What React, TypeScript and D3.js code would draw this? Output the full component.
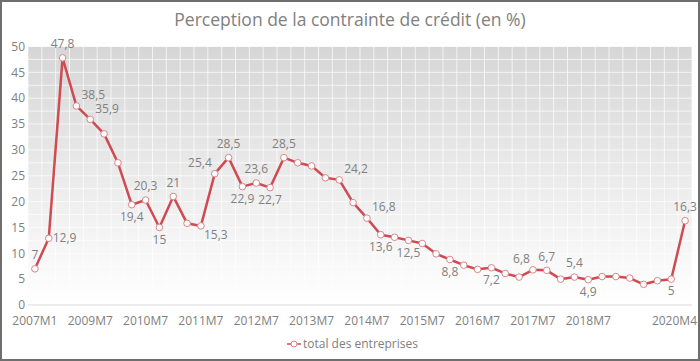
import React, { useEffect, useRef } from "react";
import * as d3 from "d3";

// categories (quarterly from 2009M1, plus two early points)
const categories = [
  "2007M1", "2008M10", "2009M1", "2009M4", "2009M7", "2009M10",
  "2010M1", "2010M4", "2010M7", "2010M10",
  "2011M1", "2011M4", "2011M7", "2011M10",
  "2012M1", "2012M4", "2012M7", "2012M10",
  "2013M1", "2013M4", "2013M7", "2013M10",
  "2014M1", "2014M4", "2014M7", "2014M10",
  "2015M1", "2015M4", "2015M7", "2015M10",
  "2016M1", "2016M4", "2016M7", "2016M10",
  "2017M1", "2017M4", "2017M7", "2017M10",
  "2018M1", "2018M4", "2018M7", "2018M10",
  "2019M1", "2019M4", "2019M7", "2019M10",
  "2020M1", "2020M4",
];

const values = [
  7, 12.9, 47.8, 38.5, 35.9, 33.1, 27.5, 19.4, 20.3, 15,
  21, 15.8, 15.3, 25.4, 28.5, 22.9, 23.6, 22.7, 28.5, 27.5,
  26.9, 24.6, 24.2, 19.8, 16.8, 13.6, 13.1, 12.5, 11.9, 9.9,
  8.8, 7.7, 6.9, 7.2, 6.1, 5.4, 6.8, 6.7, 5.0, 5.4,
  4.9, 5.5, 5.5, 5.2, 4.0, 4.7, 5.0, 16.3,
];

const tickLabels = [
  "2007M1", "2009M7", "2010M7", "2011M7", "2012M7", "2013M7",
  "2014M7", "2015M7", "2016M7", "2017M7", "2018M7", "2020M4",
];

const yTicks = [0, 5, 10, 15, 20, 25, 30, 35, 40, 45, 50];

// which points carry a data label, and on which side
const labeledPoints = [0, 1, 2, 3, 4, 7, 8, 9, 10, 12, 13, 14, 15, 16, 17, 18, 22, 24, 25, 27, 30, 33, 36, 37, 39, 40, 46, 47];
const labelSides = ["a", "r", "a", "ar", "ar", "b", "a", "b", "a", "br", "al", "a", "b", "a", "b", "a", "ar", "ar", "b", "b", "b", "b", "al", "a", "a", "b", "b", "a"];

const seriesName = "total des entreprises";
const title = "Perception de la contrainte de crédit (en %)";

const App = () => {
  const ref = useRef<SVGSVGElement>(null);

  useEffect(() => {
    const svg = d3.select(ref.current);
    svg.selectAll("*").remove();

    const width = 700;
    const height = 361;
    const margin = { top: 46.5, right: 8, bottom: 56, left: 28 };
    const font = "'Open Sans', sans-serif";
    const grey = "#808080";
    const red = "#d04a52";

    const x = d3.scaleBand()
      .domain(categories)
      .range([margin.left, width - margin.right]);

    const y = d3.scaleLinear()
      .domain([0, 50])
      .range([height - margin.bottom, margin.top]);

    // frame
    svg.append("rect")
      .attr("x", 1).attr("y", 1)
      .attr("width", width - 2).attr("height", height - 2)
      .attr("fill", "white")
      .attr("stroke", "#6f6f6f")
      .attr("stroke-width", 2);

    // plot background gradient
    const grad = svg.append("defs").append("linearGradient")
      .attr("id", "bg").attr("x1", 0).attr("y1", 0).attr("x2", 0).attr("y2", 1);
    grad.append("stop").attr("offset", "0%").attr("stop-color", "#d6d6d6");
    grad.append("stop").attr("offset", "100%").attr("stop-color", "#ffffff");

    svg.append("rect")
      .attr("x", margin.left).attr("y", y(50))
      .attr("width", x.range()[1] - margin.left)
      .attr("height", y(0) - y(50))
      .attr("fill", "url(#bg)");

    // grid
    const grid = svg.append("g").attr("stroke", "white").attr("stroke-width", 0.8).attr("opacity", 0.9);
    grid.selectAll("line.v")
      .data(categories)
      .join("line")
      .attr("x1", d => x(d)!).attr("x2", d => x(d)!)
      .attr("y1", y(50)).attr("y2", y(0));
    grid.append("line")
      .attr("x1", x.range()[1]).attr("x2", x.range()[1])
      .attr("y1", y(50)).attr("y2", y(0));
    grid.selectAll("line.h")
      .data(d3.range(0, 50.1, 2.5))
      .join("line")
      .attr("x1", margin.left).attr("x2", x.range()[1])
      .attr("y1", d => y(d)).attr("y2", d => y(d));

    // axis baseline
    svg.append("line")
      .attr("x1", margin.left).attr("x2", x.range()[1])
      .attr("y1", y(0)).attr("y2", y(0))
      .attr("stroke", "#d9d9d9");

    // y labels
    svg.append("g").selectAll("text")
      .data(yTicks)
      .join("text")
      .attr("x", 25).attr("y", d => y(d))
      .attr("dy", "0.35em")
      .attr("text-anchor", "end")
      .attr("font-family", font).attr("font-size", 12)
      .attr("fill", grey)
      .text(d => d);

    // x labels
    const last = tickLabels[tickLabels.length - 1];
    svg.append("g").selectAll("text")
      .data(tickLabels)
      .join("text")
      .attr("x", d => d === last ? width - 3 : x(d)! + x.bandwidth() / 2)
      .attr("y", y(0) + 16)
      .attr("dy", "0.35em")
      .attr("text-anchor", d => d === last ? "end" : "middle")
      .attr("font-family", font).attr("font-size", 12)
      .attr("fill", grey)
      .text(d => d);

    // title
    svg.append("text")
      .attr("x", 350).attr("y", 20)
      .attr("dy", "0.35em")
      .attr("text-anchor", "middle")
      .attr("font-family", font).attr("font-size", 17.5)
      .attr("fill", grey)
      .text(title);

    const data = categories.map((c, i) => ({ c, v: values[i] }));
    const cx = (d: { c: string }) => x(d.c)! + x.bandwidth() / 2;

    const line = d3.line<{ c: string; v: number }>()
      .x(cx)
      .y(d => y(d.v));

    svg.append("path")
      .datum(data)
      .attr("fill", "none")
      .attr("stroke", red)
      .attr("stroke-width", 2.5)
      .attr("stroke-linejoin", "round")
      .attr("d", line);

    svg.append("g").selectAll("circle")
      .data(data)
      .join("circle")
      .attr("cx", cx)
      .attr("cy", d => y(d.v))
      .attr("r", 3.3)
      .attr("fill", "white")
      .attr("stroke", "#d9868a")
      .attr("stroke-width", 1);

    // data labels
    const offsets: Record<string, [number, number, string]> = {
      a: [0, -14, "middle"],
      b: [0, 12, "middle"],
      r: [4, -1, "start"],
      ar: [5, -11, "start"],
      al: [-3, -11, "end"],
      br: [3, 9, "start"],
    };
    const fmt = (v: number) => String(v).replace(".", ",");
    svg.append("g").selectAll("text")
      .data(labeledPoints)
      .join("text")
      .attr("x", (d, i) => cx(data[d]) + offsets[labelSides[i]][0])
      .attr("y", (d, i) => y(values[d]) + offsets[labelSides[i]][1])
      .attr("dy", "0.35em")
      .attr("text-anchor", (d, i) => offsets[labelSides[i]][2])
      .attr("font-family", font).attr("font-size", 12)
      .attr("fill", grey)
      .text(d => fmt(values[d]));

    // legend
    const lg = svg.append("g").attr("transform", "translate(294,344)");
    lg.append("line")
      .attr("x1", -7).attr("x2", 7)
      .attr("stroke", red).attr("stroke-width", 1.5);
    lg.append("circle")
      .attr("r", 3)
      .attr("fill", "white")
      .attr("stroke", "#d9868a");
    lg.append("text")
      .attr("x", 9)
      .attr("dy", "0.35em")
      .attr("font-family", font).attr("font-size", 12)
      .attr("fill", grey)
      .text(seriesName);
  }, []);

  return (
    <svg
      ref={ref}
      width={700}
      height={361}
      style={{ position: "absolute", left: 0, top: 0 }}
    />
  );
};

export default App;
